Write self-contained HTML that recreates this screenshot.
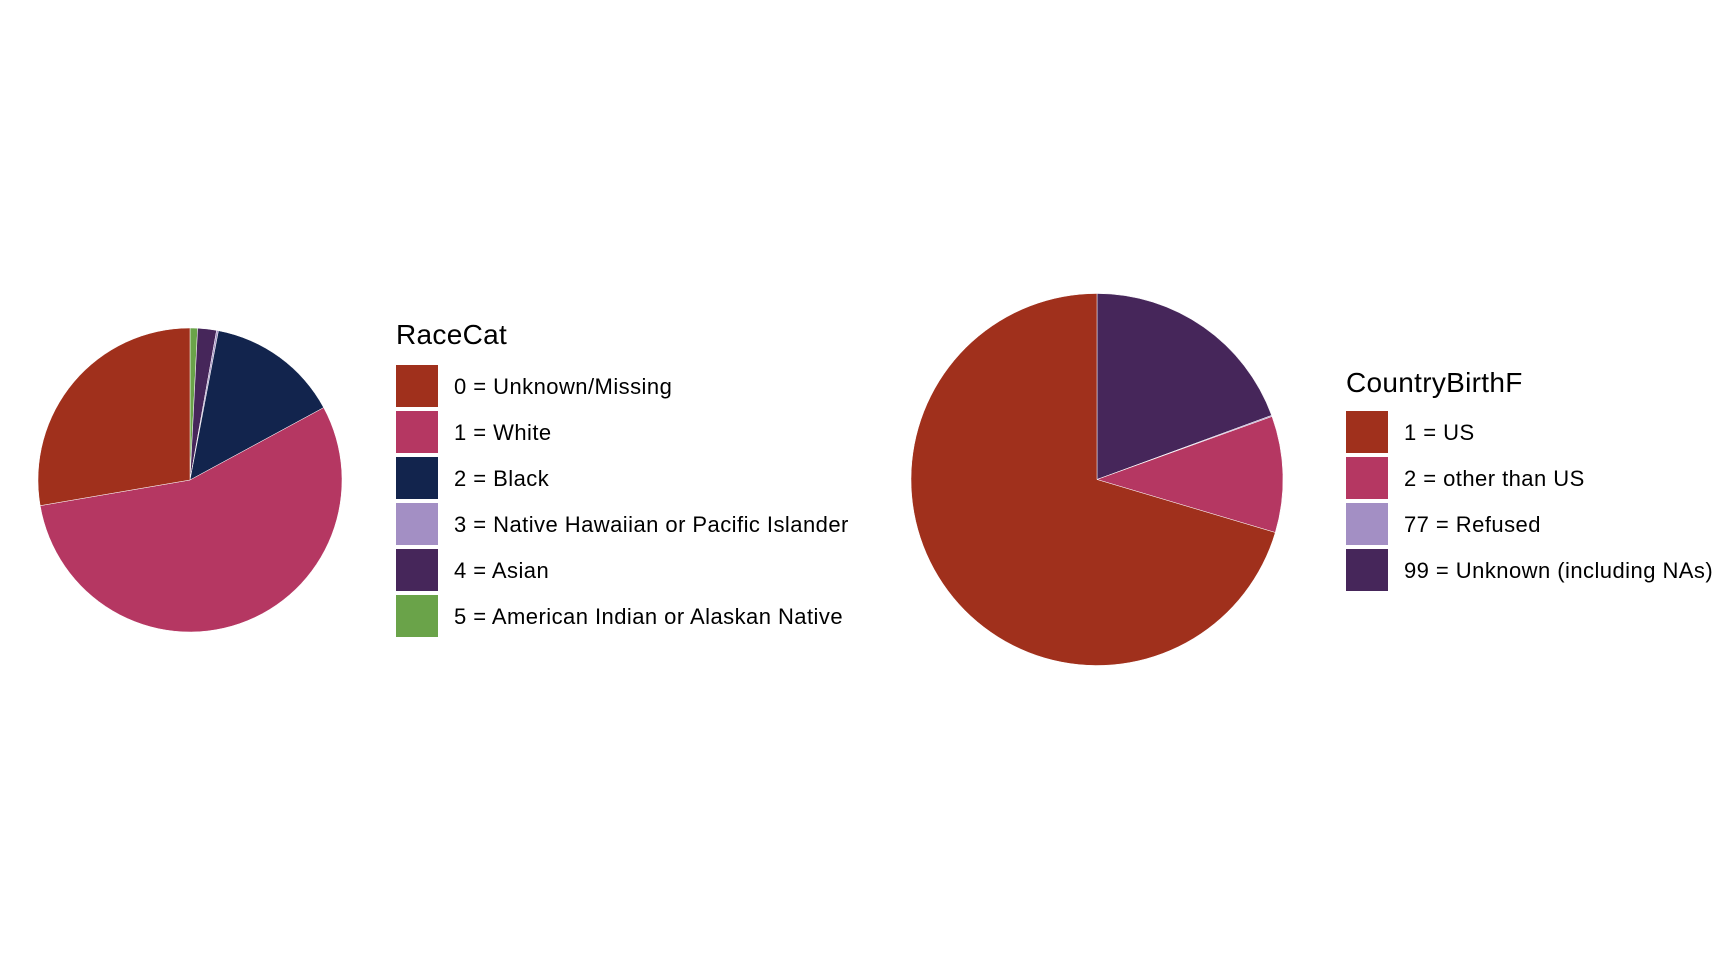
<!DOCTYPE html>
<html><head><meta charset="utf-8"><style>
html,body{margin:0;padding:0;background:#fff;}
svg{display:block;font-family:"Liberation Sans",Arial,sans-serif;}
</style></head><body>
<svg id="chart" width="1728" height="960" viewBox="0 0 1728 960"></svg>
<script>
const raceLabels = ["0 = Unknown/Missing","1 = White","2 = Black","3 = Native Hawaiian or Pacific Islander","4 = Asian","5 = American Indian or Alaskan Native"];
const raceValues = [27.7, 55.2, 14.1, 0.2, 2.0, 0.8];
const countryLabels = ["1 = US","2 = other than US","77 = Refused","99 = Unknown (including NAs)"];
const countryValues = [70.4, 10.1, 0.1, 19.4];
const raceColors = ["#a0301c","#b53762","#12244d","#a38fc4","#46265a","#6aa349"];
const countryColors = ["#a0301c","#b53762","#a38fc4","#46265a"];

const NS = "http://www.w3.org/2000/svg";
const svg = document.getElementById('chart');
function mk(tag, attrs){const e=document.createElementNS(NS,tag);for(const k in attrs)e.setAttribute(k,attrs[k]);return e;}

function pie(cx, cy, r, values, colors, name){
  const g = mk('g',{});
  
  
  svg.appendChild(g);
  const total = values.reduce((a,b)=>a+b,0);
  let acc = 0;
  for(let i=values.length-1;i>=0;i--){
    const a0 = acc/total*2*Math.PI; acc += values[i];
    const a1 = acc/total*2*Math.PI;
    const x0=cx+r*Math.sin(a0), y0=cy-r*Math.cos(a0);
    const x1=cx+r*Math.sin(a1), y1=cy-r*Math.cos(a1);
    const large = (a1-a0)>Math.PI?1:0;
    const p = mk('path',{d:`M${cx},${cy} L${x0},${y0} A${r},${r} 0 ${large} 1 ${x1},${y1} Z`,fill:colors[i],stroke:'#fff','stroke-width':0.5});
    
    
    g.appendChild(p);
  }
}

function legend(x, titleY, keyTop, title, labels, colors, name){
  const g = mk('g',{});
  
  
  svg.appendChild(g);
  const t = mk('text',{x:x,y:titleY,'font-size':28,'letter-spacing':0.3,fill:'#000'});
  t.textContent = title;
  
  
  g.appendChild(t);
  labels.forEach((lab,i)=>{
    const y = keyTop + i*46;
    const rct = mk('rect',{x:x,y:y,width:42,height:42,fill:colors[i]});
    
    
    g.appendChild(rct);
    const tx = mk('text',{x:x+58,y:y+29,'font-size':22,'letter-spacing':0.45,fill:'#000'});
    tx.textContent = lab;
    
    
    g.appendChild(tx);
  });
}

pie(190, 480, 152, raceValues, raceColors, 'race-pie');
legend(396, 344, 365, 'RaceCat', raceLabels, raceColors, 'race-legend');
pie(1097, 479.5, 186, countryValues, countryColors, 'country-pie');
legend(1346, 392, 411, 'CountryBirthF', countryLabels, countryColors, 'country-legend');
</script>
</body></html>
